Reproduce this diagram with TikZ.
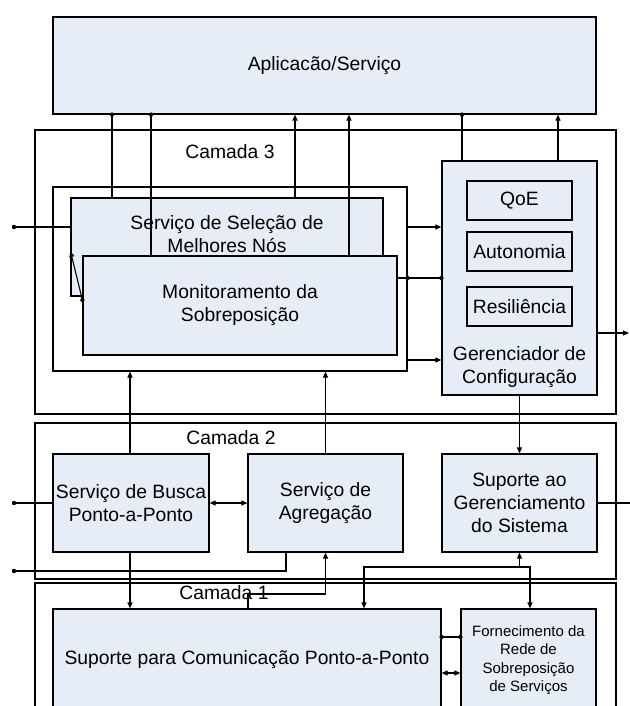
\documentclass[tikz,border=0pt]{standalone}
\usepackage{fontspec}
\setmainfont{Liberation Sans}
\usetikzlibrary{arrows.meta}
\definecolor{boxfill}{RGB}{231,237,246}
\tikzset{
  layer/.style={draw, line width=1.2bp, minimum width=581bp, inner sep=0pt},
  blk/.style={draw, fill=boxfill, line width=1.2bp, align=center, inner sep=0pt},
  lbl/.style={align=center, inner sep=0pt},
  link/.style={line width=1.1bp},
  arr/.style={link, -{Triangle[length=6bp,width=5bp]}},
  darr/.style={link, {Triangle[length=6bp,width=5bp]}-{Triangle[length=6bp,width=5bp]}},
}

\begin{document}
\begin{tikzpicture}[x=1bp, y=-1bp, font=\fontsize{19.3bp}{23bp}\selectfont]
  \clip (0,0) rectangle (630,706);

  % Layers
  \node[layer, minimum height=284bp] (cam3) at (325.5,272) {};
  \node[layer, minimum height=156bp] (cam2) at (325.5,501) {};
  \node[layer, minimum height=160bp] (cam1) at (325.5,663) {};
  \node[lbl] (l3) at (230,152) {Camada 3};
  \node[lbl] (l2) at (231,438) {Camada 2};
  \node[lbl] (l1) at (224,593) {Camada 1};

  % Boxes
  \node[blk, minimum width=543bp, minimum height=97bp] (app) at (324.5,65.5) {Aplicacão/Serviço};
  \node[draw, fill=white, line width=1.2bp, minimum width=354bp, minimum height=184bp] (grp) at (230,279) {};
  \node[blk, minimum width=312bp, minimum height=98bp] (sel) at (227,247) {};
  \node[lbl] (seltxt) at (227,234) {Serviço de Seleção de\\Melhores Nós};
  \node[blk, minimum width=314bp, minimum height=99bp] (mon) at (240,305.5) {Monitoramento da\\Sobreposição};
  \node[blk, minimum width=155bp, minimum height=234bp] (ger) at (519.5,278) {};
  \node[blk, minimum width=105bp, minimum height=39bp] (qoe) at (519.5,200.5) {QoE};
  \node[blk, minimum width=105bp, minimum height=39bp] (auto) at (519.5,251.5) {Autonomia};
  \node[blk, minimum width=105bp, minimum height=39bp] (resil) at (519.5,306.5) {Resiliência};
  \node[lbl] (gertxt) at (519.5,367) {Gerenciador de\\Configuração};
  \node[blk, minimum width=156bp, minimum height=98bp] (busca) at (131,503) {Serviço de Busca\\Ponto-a-Ponto};
  \node[blk, minimum width=155bp, minimum height=98bp] (agr) at (325.5,503) {Serviço de\\Agregação};
  \node[blk, minimum width=155bp, minimum height=98bp] (sger) at (519.5,503) {Suporte ao\\Gerenciamento\\do Sistema};
  \node[blk, minimum width=388bp, minimum height=102bp] (scom) at (247,660) {Suporte para Comunicação Ponto-a-Ponto};
  \node[blk, minimum width=135bp, minimum height=102bp,
        font=\fontsize{15bp}{18.5bp}\selectfont] (forn) at (528.5,660) {Fornecimento da\\Rede de\\Sobreposição\\de Serviços};

  % Columns and rows of the links
  \coordinate (colA) at (112,0);   \coordinate (colB) at (151,0);
  \coordinate (colC) at (295,0);   \coordinate (colD) at (349,0);
  \coordinate (colE) at (462,0);   \coordinate (colF) at (558,0);
  \coordinate (colG) at (130,0);   \coordinate (colH) at (325.5,0);
  \coordinate (colJ) at (286,0);   \coordinate (colK) at (248,0);
  \coordinate (colM) at (364,0);   \coordinate (colN) at (530,0);
  \coordinate (rowA) at (0,227);   \coordinate (rowB) at (0,278);
  \coordinate (rowC) at (0,360);   \coordinate (rowJ) at (0,637);
  \coordinate (rowK) at (0,673);   \coordinate (rowL) at (0,300);
  \coordinate (rowM) at (0,251);
  \coordinate (inA) at (14,227);   \coordinate (inB) at (14,503);
  \coordinate (inC) at (14,571);   \coordinate (outA) at (629,333);
  \coordinate (outB) at (630,503);
  \coordinate (jLow) at (325.5,594); \coordinate (jSup) at (519.5,567);

  % Application links
  \draw[link] (app.south -| colA) -- (sel.north -| colA);
  \draw[link] (app.south -| colB) -- (mon.north -| colB);
  \draw[arr] (sel.north -| colC) -- (app.south -| colC);
  \draw[arr] (mon.north -| colD) -- (app.south -| colD);
  \draw[link] (app.south -| colE) -- (ger.north -| colE);
  \draw[arr] (ger.north -| colF) -- (app.south -| colF);
  \foreach \c in {colA,colB,colE}
    \fill (app.south -| \c) circle (2.2bp);

  % Camada 3
  \draw[link] (inA) -- (sel.west |- inA);
  \fill (inA) circle (2.2bp);
  \draw[arr] (mon.west |- rowL) -- (sel.west |- rowM);
  \fill (mon.west |- rowL) circle (2.2bp);
  \draw[arr] (grp.east |- rowA) -- (ger.west |- rowA);
  \draw[link] (mon.east |- rowB) -- (ger.west |- rowB);
  \fill (grp.east |- rowB) circle (2.2bp);
  \fill (ger.west |- rowB) circle (2.2bp);
  \draw[arr] (grp.east |- rowC) -- (ger.west |- rowC);
  \draw[arr] (ger.east |- outA) -- (outA);

  % Camada 2
  \draw[arr] (busca.north -| colG) -- (grp.south -| colG);
  \draw[arr] (busca.south -| colG) -- (scom.north -| colG);
  \draw[arr] (agr.north -| colH) -- (grp.south -| colH);
  \draw[arr] (ger.south) -- (sger.north);
  \draw[link] (inB) -- (busca.west |- inB);
  \fill (inB) circle (2.2bp);
  \draw[darr] (busca.east) -- (agr.west);
  \draw[link] (sger.east) -- (outB);
  \draw[link] (agr.south -| colJ) |- (inC);
  \fill (inC) circle (2.2bp);

  % Camada 1
  \draw[arr] (scom.north -| colK) |- (jLow) -- (agr.south -| jLow);
  \draw[arr] (jSup) -- (sger.south);
  \draw[arr] (jSup) -| (scom.north -| colM);
  \draw[arr] (jSup) -| (forn.north -| colN);
  \draw[link] (scom.east |- rowJ) -- (forn.west |- rowJ);
  \fill (scom.east |- rowJ) circle (2.2bp);
  \fill (forn.west |- rowJ) circle (2.2bp);
  \draw[darr] (scom.east |- rowK) -- (forn.west |- rowK);
\end{tikzpicture}
\end{document}
